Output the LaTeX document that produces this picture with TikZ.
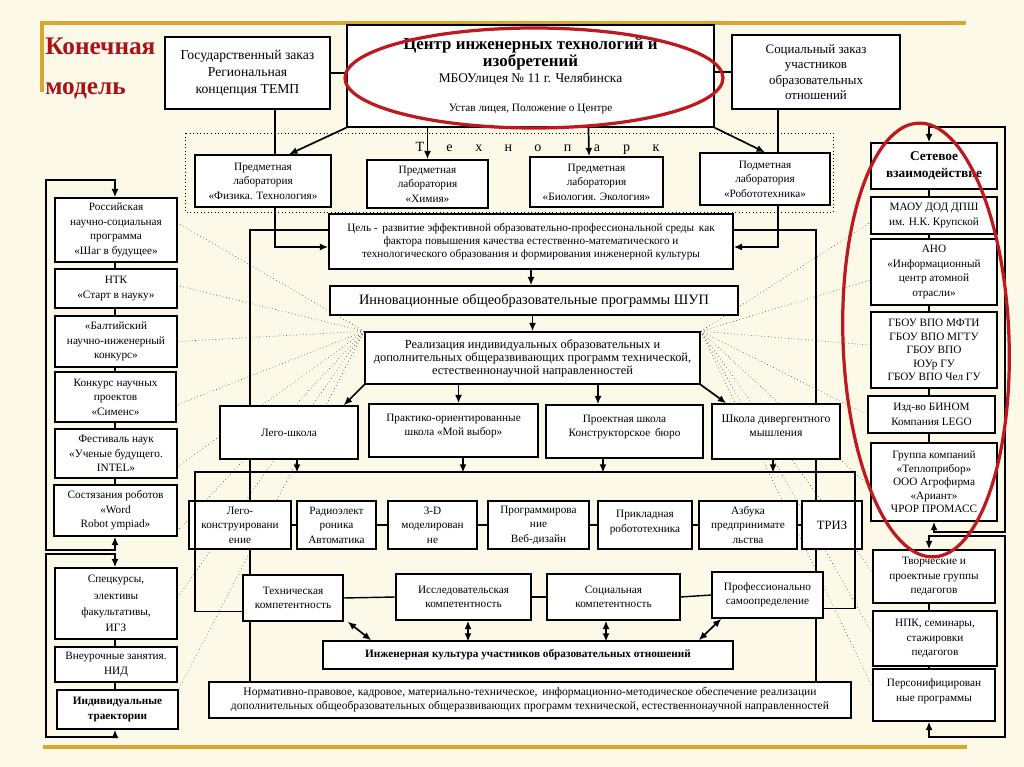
\documentclass[tikz,border=0pt]{standalone}
\usepackage{fontspec}
\setmainfont{Liberation Serif}
\usetikzlibrary{arrows.meta,calc}
\pgfdeclarelayer{bgfill}
\pgfdeclarelayer{bglines}
\pgfdeclarelayer{top}
\pgfsetlayers{bgfill,bglines,main,top}
\definecolor{cream}{RGB}{253,249,233}
\definecolor{gold}{RGB}{214,168,48}
\definecolor{dred}{RGB}{170,18,22}
\definecolor{ered}{RGB}{190,25,30}
\tikzset{
 box/.style={draw, fill=white, line width=1pt, inner sep=0pt, align=center, font=\fontsize{8}{10.3}\selectfont},
 rect/.style args={#1/#2/#3/#4}{minimum width={(#3-#1)*0.025cm}, minimum height={(#4-#2)*0.025cm}, at={({(#1+#3)/2},{(#2+#4)/2})}},
 ln/.style={line width=1pt},
 arr/.style={line width=1.2pt, -{Latex[length=6pt,width=5pt]}},
 darr/.style={line width=1.2pt, {Latex[length=6pt,width=5pt]}-{Latex[length=6pt,width=5pt]}},
 fan/.style={line width=0.4pt, dotted, black!85},
 goldline/.style={gold, line width=2.2pt},
 redring/.style={ered, line width=2.3pt},
}
\begin{document}
\begin{tikzpicture}[x=0.025cm,y=-0.025cm]
\useasboundingbox (0,0) rectangle (1024,767);
% ---------- title ----------
\node[anchor=north west, inner sep=0pt, align=left, text=dred, font=\bfseries\fontsize{18}{28}\selectfont] (title) at (45,38) {Конечная\\модель};
% ---------- top ----------
\node[box, font=\fontsize{9.7}{12}\selectfont, rect=165/37/330/109] (gos) {Государственный заказ\\Региональная\\концепция ТЕМП};
\node[box, rect=347/25/714/127] (center) {{\bfseries\fontsize{12}{13.5}\selectfont Центр инженерных технологий и}\\{\bfseries\fontsize{12}{13.5}\selectfont изобретений}\\[1pt]{\fontsize{9.5}{11}\selectfont МБОУлицея № 11 г. Челябинска}\\[10pt]{\fontsize{8}{10}\selectfont Устав лицея, Положение о Центре}};
\node[box, font=\fontsize{9.2}{11}\selectfont, rect=732/35/900/109] (soc) {Социальный заказ\\участников\\образовательных\\отношений};
% ---------- technopark ----------
\node[inner sep=0pt, font=\fontsize{10}{12}\selectfont] (tpark) at (538,148) {\makebox[21pt]{Т}\makebox[21pt]{е}\makebox[21pt]{х}\makebox[21pt]{н}\makebox[21pt]{о}\makebox[21pt]{п}\makebox[21pt]{а}\makebox[21pt]{р}\makebox[21pt]{к}};
\node[box, rect=195/155/331/207] (fiz) {Предметная\\лаборатория\\«Физика. Технология»};
\node[box, rect=367/160/488/208] (him) {Предметная\\лаборатория\\«Химия»};
\node[box, rect=530/157/663/207] (bio) {Предметная\\лаборатория\\«Биология. Экология»};
\node[box, rect=700/153/830/205] (rob) {Подметная\\лаборатория\\«Робототехника»};
% ---------- middle ----------
\node[box, font=\fontsize{8}{9.3}\selectfont, rect=329/214/733/269] (goal) {Цель -\, развитие эффективной образовательно-профессиональной среды\, как\\фактора повышения качества естественно-математического и\\технологического образования и формирования инженерной культуры};
\node[box, font=\fontsize{10.2}{12}\selectfont, rect=330/286/738/315] (inno) {Инновационные общеобразовательные программы ШУП};
\node[box, font=\fontsize{8.8}{9.3}\selectfont, rect=365/332/700/384] (real) {Реализация индивидуальных образовательных и\\дополнительных общеразвивающих программ технической,\\естественнонаучной направленностей};
% schools
\node[box, rect=220/406/358/459] (lego) {Лего-школа};
\node[box, rect=369/404/538/457] (prak) {Практико-ориентированные\\школа «Мой выбор»\\[-2pt]};
\node[box, rect=546/405/703/458] (proj) {Проектная школа\\Конструкторское\, бюро\\[-2pt]};
\node[box, font=\fontsize{8.3}{10.3}\selectfont, rect=712/404/840/459] (div) {Школа дивергентного\\мышления\\[-2pt]};
% activities
\node[box, rect=189/501/291/549] (lk) {Лего-\\конструировани\\ение};
\node[box, rect=297/501/376/549] (re) {Радиоэлект\\роника\\Автоматика};
\node[box, rect=388/501/477/549] (td) {3-D\\моделирован\\не};
\node[box, rect=488/501/589/549] (pr) {Программирова\\ние\\Веб-дизайн};
\node[box, rect=598/501/692/549] (pk) {Прикладная\\робототехника\\[-5.3pt]};
\node[box, rect=699/501/797/549] (az) {Азбука\\предпринимате\\льства};
\node[box, font=\fontsize{9}{11}\selectfont, rect=802/501/862/549] (tr) {ТРИЗ};
% competences
\node[box, rect=243/575/343/621] (tech) {Техническая\\компетентность};
\node[box, rect=396/574/531/620] (res) {Исследовательская\\компетентность};
\node[box, rect=547/574/680/620] (soc2) {Социальная\\компетентность};
\node[box, rect=712/572/823/618] (prof) {Профессионально\\самоопределение};
\node[box, font=\bfseries\fontsize{8}{10}\selectfont, rect=323/641/733/669] (eng) {Инженерная культура участников образовательных отношений};
\node[box, font=\fontsize{8.2}{10}\selectfont, rect=209/682/851/718] (norm) {Нормативно-правовое, кадровое, материально-техническое,\, информационно-методическое обеспечение реализации\\дополнительных общеобразовательных общеразвивающих программ технической, естественнонаучной направленностей};
% ---------- left column ----------
\node[box, rect=55/198/177/262] (ross) {Российская\\научно-социальная\\программа\\«Шаг в будущее»};
\node[box, rect=55/269/177/308] (ntk) {НТК\\«Старт в науку»};
\node[box, rect=55/316/177/367] (balt) {«Балтийский\\научно-инженерный\\конкурс»};
\node[box, rect=55/372/176/422] (konk) {Конкурс научных\\проектов\\«Сименс»};
\node[box, rect=55/429/177/478] (fest) {Фестиваль наук\\«Ученые будущего.\\INTEL»};
\node[box, rect=54/485/177/536] (sost) {Состязания роботов\\«Word\\Robot ympiad»};
\node[box, font=\fontsize{8}{11.5}\selectfont, rect=55/568/177/639] (spec) {Спецкурсы,\\элективы\\факультативы,\\ИГЗ};
\node[box, rect=55/647/177/682] (vneur) {Внеурочные занятия.\\НИД};
\node[box, font=\bfseries\fontsize{8}{10.5}\selectfont, rect=57/690/178/729] (indiv) {Индивидуальные\\траектории};
% ---------- right column ----------
\node[box, font=\bfseries\fontsize{9.5}{12}\selectfont, rect=871/143/997/189] (set) {Сетевое\\взаимодействие};
\node[box, rect=871/197/997/234] (maou) {МАОУ ДОД ДПШ\\им. Н.К. Крупской};
\node[box, rect=871/239/997/305] (ano) {АНО\\«Информационный\\центр атомной\\отрасли»};
\node[box, font=\fontsize{8}{9.6}\selectfont, rect=871/312/997/388] (gbou) {ГБОУ ВПО МФТИ\\ГБОУ ВПО МГТУ\\ГБОУ ВПО\\ЮУр ГУ\\ГБОУ ВПО Чел ГУ};
\node[box, rect=868/396/995/433] (izd) {Изд-во БИНОМ\\Компания LEGO};
\node[box, font=\fontsize{8}{9.6}\selectfont, rect=871/443/997/521] (grp) {Группа компаний\\«Теплоприбор»\\ООО Агрофирма\\«Ариант»\\ЧРОР ПРОМАСС};
\node[box, rect=873/550/995/603] (tv) {Творческие и\\проектные группы\\педагогов};
\node[box, rect=873/611/997/666] (npk) {НПК, семинары,\\стажировки\\педагогов};
\node[box, rect=873/669/995/721] (pers) {Персонифицирован\\ные программы\\[-3.3pt]};
% ---------- helper coordinates ----------
\coordinate (xl) at (115,0);
\coordinate (xr) at (929,0);
\coordinate (lt) at (46,180);
\coordinate (lm1) at (46,550);
\coordinate (lm2) at (46,554);
\coordinate (lb) at (46,737);
\coordinate (rt) at (1005,127);
\coordinate (rm1) at (1005,532);
\coordinate (rm2) at (1005,536);
\coordinate (rb) at (1005,737);
\coordinate (fl) at (250,230);
\coordinate (fr) at (816,230);
\coordinate (vl) at (275,247);
\coordinate (vr) at (778,247);
\coordinate (bl) at (195,472);
\coordinate (br) at (855,472);
% ---------- background: gold frame, technopark, lines behind boxes ----------
\begin{pgfonlayer}{bgfill}
\fill[cream] (0,0) rectangle (1024,767);
\draw[goldline] (40,23) -- (966,23);
\draw[goldline] (42,23) -- (42,92);
\draw[goldline] (43,747) -- (967,747);
\draw[dotted, line width=0.5pt] (185,133) rectangle (833,212);
\end{pgfonlayer}
\begin{pgfonlayer}{bglines}
% frame verticals
\draw[ln] (goal.west |- fl) -- (fl) -- (fl |- norm.north);
\draw[ln] (goal.east |- fr) -- (fr) -- (fr |- norm.north);
% dotted fans, left
\draw[fan] (real.north west) -- ($(ross.east)+(0,-7)$);
\draw[fan] (real.north west) -- ($(ntk.east)+(0,-3)$);
\draw[fan] (real.north west) -- (balt.east);
\draw[fan] (real.north west) -- ($(konk.east)+(0,8)$);
\draw[fan] (real.north west) -- ($(fest.east)+(0,13)$);
\draw[fan] (real.north west) -- ($(sost.east)+(0,20)$);
\draw[fan] (real.north west) -- ($(spec.east)+(0,-6)$);
\draw[fan] (real.north west) -- (indiv.north east);
% dotted fans, right
\draw[fan] (real.north east) -- ($(maou.west)+(0,7)$);
\draw[fan] (real.north east) -- ($(ano.west)+(0,8)$);
\draw[fan] (real.north east) -- ($(gbou.west)+(0,-5)$);
\draw[fan] (real.north east) -- (izd.west);
\draw[fan] (real.north east) -- ($(grp.west)+(0,5)$);
\draw[fan] (real.north east) -- ($(tv.west)+(0,-4)$);
\draw[fan] (real.north east) -- ($(npk.west)+(0,-5)$);
\draw[fan] (real.north east) -- ($(pers.west)+(0,-8)$);
\end{pgfonlayer}
% ---------- connectors ----------
\draw[ln] (gos.east) -- (center.west |- gos.east);
\draw[ln] (soc.west) -- (center.east |- soc.west);
\draw[ln] (gos.south -| vl) -- (fiz.north -| vl);
\draw[ln] (soc.south -| vr) -- (rob.north -| vr);
\draw[arr] (center.south west) -- ($(fiz.north)+(26,0)$);
\draw[arr] (center.south -| him.north) -- (him.north);
\draw[arr] ($(center.south)+(58,0)$) -- ($(bio.north)+(-7.5,0)$);
\draw[arr] (center.south east) -- (rob.north);
\draw[arr] (fiz.south -| vl) -- (vl) -- (goal.west |- vl);
\draw[arr] (rob.south -| vr) -- (vr) -- (goal.east |- vr);
\draw[arr] (goal.south) -- (goal.south |- inno.north);
\draw[arr] (inno.south -| real.north) -- (real.north);
\draw[arr] (real.south west) -- ($(lego.north east)+(-15,0)$);
\draw[arr] ($(real.south)+(-74,0)$) -- ($(prak.north)+(5,0)$);
\draw[arr] ($(real.south)+(65.5,0)$) -- ($(proj.north)+(-26.5,0)$);
\draw[arr] (real.south east) -- ($(div.north west)+(15,0)$);
% bar under schools
\draw[ln] ($(tech.south west)+(0,-10)$) -| (bl) -- (br) |- ($(prof.south east)+(0,-10)$);
\draw[arr] ($(lego.south)+(8,0)$) -- ($(lego.south)+(8,13)$);
\draw[arr] ($(prak.south)+(9.5,0)$) -- ($(prak.south)+(9.5,15)$);
\draw[arr] ($(proj.south)+(-21.5,0)$) -- ($(proj.south)+(-21.5,14)$);
\draw[arr] ($(div.south)+(-3,0)$) -- ($(div.south)+(-3,13)$);
% activity chain
\draw[ln] (lk.east) -- (re.west);
\draw[ln] (re.east) -- (td.west);
\draw[ln] (td.east) -- (pr.west);
\draw[ln] (pr.east) -- (pk.west);
\draw[ln] (pk.east) -- (az.west);
\draw[ln] (az.east) -- (tr.west);
% competence chain
\draw[ln] (tech.east) -- (res.west);
\draw[ln] (res.east) -- (soc2.west);
\draw[ln] (soc2.east) -- (prof.west);
\draw[darr] ($(tech.south east)+(4,0)$) -- ($(eng.north west)+(49,0)$);
\draw[darr] ($(res.south)+(4.5,0)$) -- ($(res.south)+(4.5,21)$);
\draw[darr] ($(soc2.south)+(-7.5,0)$) -- ($(soc2.south)+(-7.5,21)$);
\draw[darr] ($(prof.south west)+(10,0)$) -- ($(eng.north east)+(-35,0)$);
% left column
\draw[ln] (ross.south -| xl) -- (ntk.north -| xl);
\draw[ln] (ntk.south -| xl) -- (balt.north -| xl);
\draw[ln] (balt.south -| xl) -- (konk.north -| xl);
\draw[ln] (konk.south -| xl) -- (fest.north -| xl);
\draw[ln] (fest.south -| xl) -- (sost.north -| xl);
\draw[ln] (spec.south -| xl) -- (vneur.north -| xl);
\draw[ln] (vneur.south -| xl) -- (indiv.north -| xl);
\draw[darr] (sost.south -| xl) -- (xl |- lm1) -- (lm1) -- (lt) -- (xl |- lt) -- (ross.north -| xl);
\draw[darr] (spec.north -| xl) -- (xl |- lm2) -- (lm2) -- (lb) -- (xl |- lb) -- (indiv.south -| xl);
% right column
\draw[ln] (set.south -| xr) -- (maou.north -| xr);
\draw[ln] (maou.south -| xr) -- (ano.north -| xr);
\draw[ln] (ano.south -| xr) -- (gbou.north -| xr);
\draw[ln] (gbou.south -| xr) -- (izd.north -| xr);
\draw[ln] (izd.south -| xr) -- (grp.north -| xr);
\draw[ln] (tv.south -| xr) -- (npk.north -| xr);
\draw[ln] (npk.south -| xr) -- (pers.north -| xr);
\draw[darr] (grp.south) -- (grp.south |- rm1) -- (rm1) -- (rt) -- (xr |- rt) -- (set.north -| xr);
\draw[darr] (tv.north -| xr) -- (xr |- rm2) -- (rm2) -- (rb) -- (xr |- rb) -- (pers.south -| xr);
% ---------- red rings ----------
\begin{pgfonlayer}{top}
\draw[redring] (534,78) ellipse [x radius=189, y radius=50];
\draw[redring, rotate around={2:(926,340)}] (926,340) ellipse [x radius=83, y radius=217];
\end{pgfonlayer}
\end{tikzpicture}
\end{document}
